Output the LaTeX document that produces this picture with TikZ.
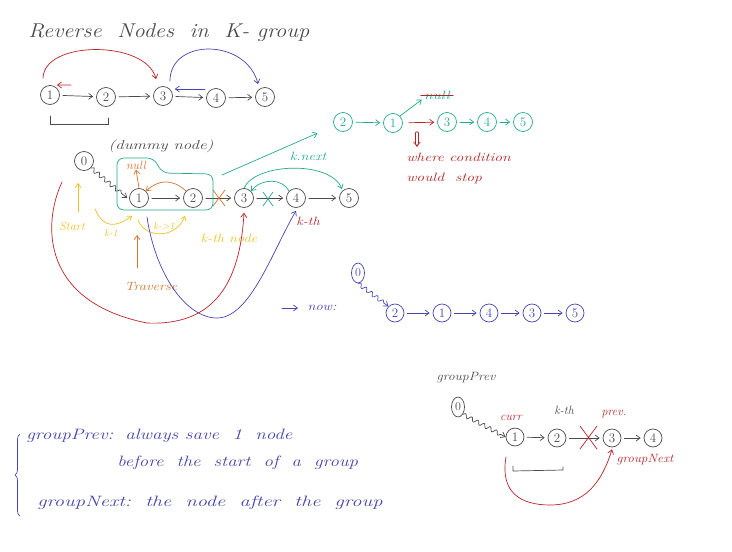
\documentclass[tikz,border=0pt]{standalone}
\usetikzlibrary{arrows.meta,decorations.pathmorphing,decorations.pathreplacing,shapes.geometric}
\definecolor{pen}{RGB}{75,75,75}
\definecolor{myred}{RGB}{185,35,40}
\definecolor{myblue}{RGB}{70,70,175}
\definecolor{mygreen}{RGB}{35,170,140}
\definecolor{myorange}{RGB}{215,115,45}
\definecolor{myyellow}{RGB}{238,192,40}
\tikzset{
  cn/.style={circle, draw, minimum size=19pt, inner sep=0pt, line width=0.7pt, font=\fontsize{13}{13}\selectfont},
  en/.style={ellipse, draw, minimum width=13pt, minimum height=20pt, inner sep=0pt, line width=0.7pt, font=\fontsize{12}{12}\selectfont},
  ar/.style={-{Straight Barb[length=4pt,width=6pt]}, shorten <=3pt, shorten >=3pt},
  tip/.style={-{Straight Barb[length=4pt,width=6pt]}},
  hw/.style={font=\fontsize{12}{14}\selectfont\itshape, inner sep=0pt},
  sm/.style={font=\fontsize{10}{11}\selectfont\itshape, inner sep=0pt},
  big/.style={font=\fontsize{20}{22}\selectfont\itshape, inner sep=0pt},
  mid/.style={font=\fontsize{15}{18}\selectfont\itshape, inner sep=0pt},
  sq/.style={decorate, decoration={snake, amplitude=2pt, segment length=7pt, post length=5pt}},
}
\begin{document}
\begin{tikzpicture}[x=1pt,y=-1pt,line width=0.7pt, line cap=round]
\useasboundingbox (0,0) rectangle (732,552);
% title
\node[big, pen, anchor=west] (title) at (28,33) {\scalebox{1.12}[1]{Reverse\ \ Nodes\ \ in\ \ K- group}};

% top row
\begin{scope}[pen]
\node[cn] (t1) at (50,95) {1};
\node[cn] (t2) at (106,97) {2};
\node[cn] (t3) at (163,96) {3};
\node[cn] (t4) at (216,98) {4};
\node[cn] (t5) at (265,97) {5};
\draw[ar] (t1) -- (t2);
\draw[ar] (t2) -- (t3);
\draw[ar] (t3) -- (t4);
\draw[ar] (t4) -- (t5);
\coordinate (bra) at (50,116);
\coordinate (brb) at (108,118);
\draw (bra) -- (50,124) -- (108,124) -- (brb);
\end{scope}
\draw[myred, tip] ([yshift=10pt]t1.north west) .. controls (44,40) and (146,40) .. ([yshift=10pt]t3.north west);
\coordinate (r1) at (71,85);
\draw[myred, tip] (r1) -- ([yshift=3pt]t1.north east);
\draw[myblue, tip] ([yshift=8pt]t3.north east) .. controls (170,38) and (246,38) .. ([yshift=6pt]t5.north west);
\coordinate (b1) at (205,89);
\draw[myblue, tip] (b1) -- ([yshift=7pt,xshift=2pt]t3.east);

% main row
\begin{scope}[pen]
\node[cn] (m0) at (84,161) {0};
\node[cn] (m1) at (139,198) {1};
\node[cn] (m2) at (193,198) {2};
\node[cn] (m3) at (244,198) {3};
\node[cn] (m4) at (296,198) {4};
\node[cn] (m5) at (349,198) {5};
\node[hw, font=\fontsize{13}{14}\selectfont\itshape] (dummy) at (161,146) {\scalebox{1.3}[1]{(dummy node)}};
\draw[ar] (m1) -- (m2);
\draw[ar] (m2) -- (m3);
\draw[ar] (m3) -- (m4);
\draw[ar] (m4) -- (m5);
\draw[tip, sq] (m0.south east) -- ([xshift=-2pt]m1.west);
\end{scope}
% crosses
\draw[myorange] (213,190) -- (225,206) (225,190) -- (213,206);
\draw[mygreen] (263,192) -- (273,206) (273,192) -- (263,206);
% green box
\draw[mygreen, rounded corners=7pt] (117,158) -- (154,158) -- (162,173) -- (213,174) -- (213,210) -- (117,210) -- cycle;
% orange
\node[hw, myorange] (null1) at (136,165) {null};
\draw[myorange, tip] (m1.north) -- (null1.south);
\draw[myorange, tip] (m2.north west) .. controls (172,178) and (158,180) .. (m1.north east);
\node[hw, myorange] (trav) at (151,286) {\scalebox{1.2}[1]{Traverse}};
\coordinate (tv) at (137,268);
\draw[myorange, tip] (tv) -- (137,235);
% yellow
\node[hw, myyellow] (start) at (72,226) {Start};
\coordinate (ys) at (78,212);
\draw[myyellow, tip] (ys) -- (78,183);
\coordinate (k1a) at (95,209);
\coordinate (k1b) at (132,216);
\draw[myyellow, tip] (k1a) .. controls (103,228) and (115,228) .. (k1b);
\node[sm, myyellow] (k1) at (111,233) {k-1};
\coordinate (k2a) at (138,220);
\coordinate (k2b) at (185,216);
\draw[myyellow, tip] (k2a) .. controls (145,238) and (175,240) .. (k2b);
\node[sm, myyellow] (k2) at (164,226) {k->1};
\node[hw, myyellow] (kthnode) at (229,238) {\scalebox{1.2}[1]{k-th node}};
% teal
\coordinate (gs) at (222,175);
\node[hw, mygreen] (knext) at (308,156) {\scalebox{1.2}[1]{k.next}};
\draw[mygreen, tip] (m3.north) .. controls (255,163) and (330,160) .. ([yshift=2pt]m5.north west);
\draw[mygreen, tip] (m4.north west) .. controls (282,178) and (262,178) .. (m3.north east);
\node[hw, myred] (kth) at (308,221) {\scalebox{1.2}[1]{k-th}};
% red big curve
\coordinate (rs) at (62,182);
\draw[myred, tip] (rs) .. controls (42,225) and (42,302) .. (147,323) .. controls (215,326) and (240,282) .. ([yshift=-5pt]m3.south);
% blue big curve
\coordinate (bs) at (147,217);
\draw[myblue, tip] (bs) .. controls (155,272) and (185,318) .. (217,318) .. controls (250,318) and (272,252) .. ([yshift=-3pt]m4.south);

% green row
\begin{scope}[mygreen]
\node[cn] (g2) at (343,122) {2};
\node[cn] (g1) at (393,123) {1};
\node[cn] (g3) at (447,122) {3};
\node[cn] (g4) at (487,122) {4};
\node[cn] (g5) at (523,122) {5};
\draw[ar] (g2) -- (g1);
\draw[ar] (g3) -- (g4);
\draw[ar] (g4) -- (g5);
\node[hw] (gnull) at (437,95) {\scalebox{1.3}[1]{null}};
\draw[tip] (g1.north east) -- ([xshift=-2pt]gnull.south west);
\draw[tip, shorten >=18pt] (gs) -- (g2);
\end{scope}
\draw[myred] ([xshift=-3pt]gnull.west) -- ([xshift=3pt]gnull.east);
\draw[myred, ar, shorten <=6pt] (g1) -- (g3);
\coordinate (dd) at (417,133);
\draw[myred, double, double distance=2pt, line width=0.6pt, -{Implies}] (dd) -- (417,147);
\node[hw, myred, anchor=west] (where) at (406,157) {\scalebox{1.3}[1]{where condition}};
\node[hw, myred, anchor=west] (would) at (406,178) {\scalebox{1.3}[1]{would\ \ stop}};

% blue row
\begin{scope}[myblue]
\coordinate (na) at (282,308);
\draw[tip] (na) -- (298,308);
\node[hw] (now) at (322,308) {\scalebox{1.2}[1]{now:}};
\node[en] (n0) at (358,273) {0};
\node[cn, minimum size=18pt] (n2) at (395,313) {2};
\node[cn, minimum size=18pt] (n1) at (442,313) {1};
\node[cn, minimum size=18pt] (n4) at (489,313) {4};
\node[cn, minimum size=18pt] (n3) at (532,313) {3};
\node[cn, minimum size=18pt] (n5) at (575,313) {5};
\draw[tip, sq] (n0.south) -- (n2.north west);
\draw[ar] (n2) -- (n1);
\draw[ar] (n1) -- (n4);
\draw[ar] (n4) -- (n3);
\draw[ar] (n3) -- (n5);
\end{scope}

% bottom left notes
\begin{scope}[myblue]
\draw[decorate, decoration={brace, amplitude=5pt}] (20,516) -- (20,434);
\node[mid, anchor=west] (gp) at (26,436) {\scalebox{1.27}[1]{groupPrev: \,always save\ \ 1\ \ node}};
\node[mid, anchor=west] (bf) at (117,463) {\scalebox{1.25}[1]{before\ \ the\ \ start\ \ of\ \ a\ \ group}};
\node[mid, anchor=west] (gn) at (37,503) {\scalebox{1.36}[1]{groupNext:\ \ the\ \ node\ \ after\ \ the\ \ group}};
\end{scope}

% bottom right
\begin{scope}[pen]
\node[hw] (gplab) at (466,378) {\scalebox{1.15}[1]{groupPrev}};
\node[en] (p0) at (458,407) {0};
\node[cn, minimum size=18pt] (p1) at (515,437) {1};
\node[cn, minimum size=18pt] (p2) at (557,438) {2};
\node[cn, minimum size=18pt] (p3) at (612,438) {3};
\node[cn, minimum size=18pt] (p4) at (653,438) {4};
\draw[tip, sq] (p0.south east) -- (p1.west);
\draw[ar] (p1) -- (p2);
\draw[ar] (p2) -- (p3);
\draw[ar] (p3) -- (p4);
\node[hw] (kth2) at (564,410) {k-th};
\coordinate (q1) at (513,466);
\coordinate (q2) at (563,467);
\draw (q1) -- (513,471) -- (563,470) -- (q2);
\end{scope}
\node[hw, myred] (curr) at (511,418) {curr};
\node[hw, myred] (prev) at (614,414) {prev.};
\node[hw, myred] (gnext) at (645,460) {\scalebox{1.1}[1]{groupNext}};
\draw[myred] (580,426) -- (597,449) (597,426) -- (580,449);
\coordinate (c1) at (506,457);
\draw[myred, tip] (c1) .. controls (500,492) and (520,505) .. (550,505) .. controls (585,505) and (602,482) .. ([yshift=-2pt]p3.south);
\end{tikzpicture}
\end{document}
